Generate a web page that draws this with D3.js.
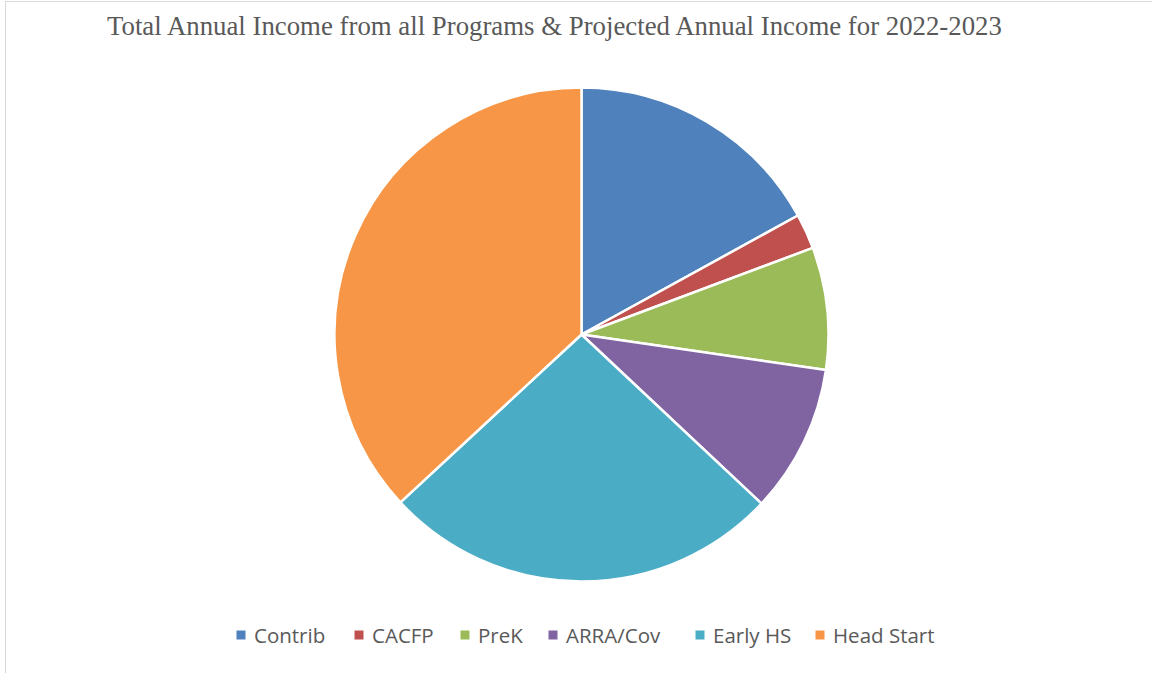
<!DOCTYPE html>
<html>
<head>
<meta charset="utf-8">
<script src="https://cdn.jsdelivr.net/npm/d3@7"></script>
<style>
  body { margin: 0; background: #fff; }
  svg { display: block; }
</style>
</head>
<body>
<svg id="chart"></svg>
<script>
const width = 1152;
const height = 673;

// share of annual income per program (in %)
const programs = ['Contrib', 'CACFP', 'PreK', 'ARRA/Cov', 'Early HS', 'Head Start'];
const shares = [17.0, 2.3, 8.0, 9.7, 26.1, 36.9];
const colors = ['#4F81BD', '#C0504D', '#9BBB59', '#8064A2', '#4BACC6', '#F79646'];

const title = 'Total Annual Income from all Programs & Projected Annual Income for 2022-2023';

const data = programs.map((p, i) => ({ name: p, value: shares[i] }));

const svg = d3.select('#chart')
    .attr('width', width)
    .attr('height', height);

// chart frame
svg.append('rect')
    .attr('x', 5.5)
    .attr('y', 1.5)
    .attr('width', 1200)
    .attr('height', 700)
    .attr('fill', 'none')
    .attr('stroke', '#d9d9d9')
    .attr('stroke-width', 1);

svg.append('text')
    .attr('x', 107)
    .attr('y', 35)
    .attr('font-family', '"Liberation Serif", "Times New Roman", serif')
    .attr('font-size', 26.8)
    .attr('fill', '#595959')
    .text(title);

const color = d3.scaleOrdinal().domain(programs).range(colors);

const radius = 247;
const cx = 581.5;
const cy = 334.5;

const pie = d3.pie().sort(null).value(d => d.value);
const arc = d3.arc().innerRadius(0).outerRadius(radius);

svg.append('g')
    .attr('transform', `translate(${cx}, ${cy})`)
    .selectAll('path')
    .data(pie(data))
    .enter()
    .append('path')
    .attr('d', arc)
    .attr('fill', d => color(d.data.name))
    .attr('stroke', '#fff')
    .attr('stroke-width', 2.5)
    .attr('stroke-linejoin', 'round');

// legend
const legendX = [241, 359, 465, 553, 700, 820];
const legend = svg.append('g');

const items = legend.selectAll('g')
    .data(data)
    .enter()
    .append('g')
    .attr('transform', (d, i) => `translate(${legendX[i]}, 635)`);

items.append('rect')
    .attr('x', -4.5)
    .attr('y', -4.5)
    .attr('width', 9)
    .attr('height', 9)
    .attr('fill', d => color(d.name));

items.append('text')
    .attr('x', 13)
    .attr('y', 7.5)
    .attr('font-family', '"Open Sans", "Noto Sans", sans-serif')
    .attr('font-size', 20.5)
    .attr('fill', '#595959')
    .text(d => d.name);
</script>
</body>
</html>
